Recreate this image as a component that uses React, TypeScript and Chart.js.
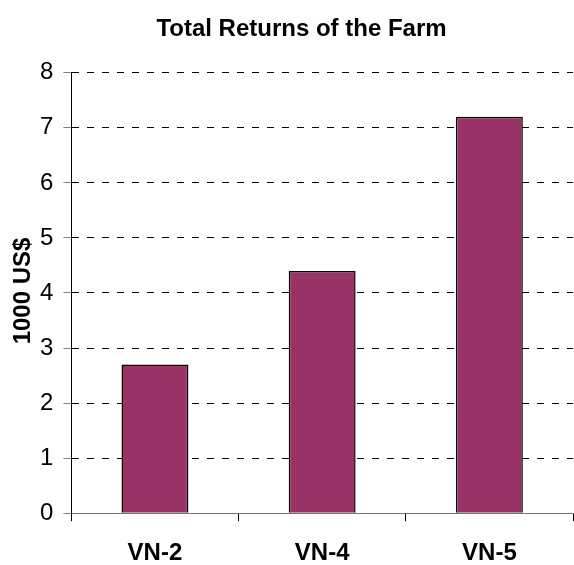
import React, { useEffect, useRef } from "react";
import { Chart, registerables } from "chart.js";

Chart.register(...registerables);

const categories = ["VN-2", "VN-4", "VN-5"];
const totalReturns = [2.7, 4.4, 7.2];
const chartTitle = "Total Returns of the Farm";
const yAxisTitle = "1000 US$";
const yMin = 0;
const yMax = 8;
const yStep = 1;

const FONT = '"Liberation Sans", Arial, sans-serif';

const yTitlePlugin = {
  id: "yTitlePlugin",
  afterDraw(chart: any) {
    const { ctx, chartArea } = chart;
    ctx.save();
    ctx.translate(23, (chartArea.top + chartArea.bottom) / 2 - 2);
    ctx.rotate(-Math.PI / 2);
    ctx.font = `bold 24px ${FONT}`;
    ctx.fillStyle = "#000";
    ctx.textAlign = "center";
    ctx.textBaseline = "middle";
    ctx.fillText(yAxisTitle, 0, 0);
    ctx.restore();
  },
};

export default function App() {
  const ref = useRef<HTMLCanvasElement>(null);

  useEffect(() => {
    document.body.style.margin = "0";
    const canvas = ref.current;
    if (!canvas) return;
    const chart = new Chart(canvas, {
      type: "bar",
      data: {
        labels: categories,
        datasets: [
          {
            data: totalReturns,
            backgroundColor: "#993366",
            borderColor: "#000000",
            borderWidth: 1.5,
            barPercentage: 0.4,
            categoryPercentage: 1,
          },
        ],
      },
      options: {
        responsive: false,
        animation: false,
        layout: { padding: { left: 30, right: 1, top: 0, bottom: -21 } },
        plugins: {
          legend: { display: false },
          tooltip: { enabled: false },
          title: {
            display: true,
            text: chartTitle,
            color: "#000",
            font: { family: FONT, size: 24, weight: "bold" },
            padding: { top: 15, bottom: 29 },
          },
        },
        scales: {
          x: {
            offset: true,
            grid: {
              offset: true,
              drawOnChartArea: false,
              drawTicks: true,
              tickLength: 8,
              tickColor: "#000",
            },
            border: { display: true, color: "#777", width: 1 },
            ticks: {
              color: "#000",
              padding: 18,
              font: { family: FONT, size: 24, weight: "bold" },
            },
          },
          y: {
            min: yMin,
            max: yMax,
            grid: {
              color: (c: any) =>
                c.tick && c.tick.value === 0 ? "rgba(0,0,0,0)" : "#000",
              lineWidth: 1,
              drawTicks: true,
              tickLength: 8,
              tickColor: "#808080",
              tickBorderDash: [],
            },
            border: { display: true, color: "#000", width: 1, dash: [7, 8] },
            ticks: {
              stepSize: yStep,
              color: "#000",
              padding: 10,
              font: { family: FONT, size: 24 },
            },
          },
        },
      },
      plugins: [yTitlePlugin],
    } as any);
    return () => chart.destroy();
  }, []);

  return (
    <div style={{ width: 574, height: 565 }}>
      <canvas ref={ref} width={574} height={565} />
    </div>
  );
}
